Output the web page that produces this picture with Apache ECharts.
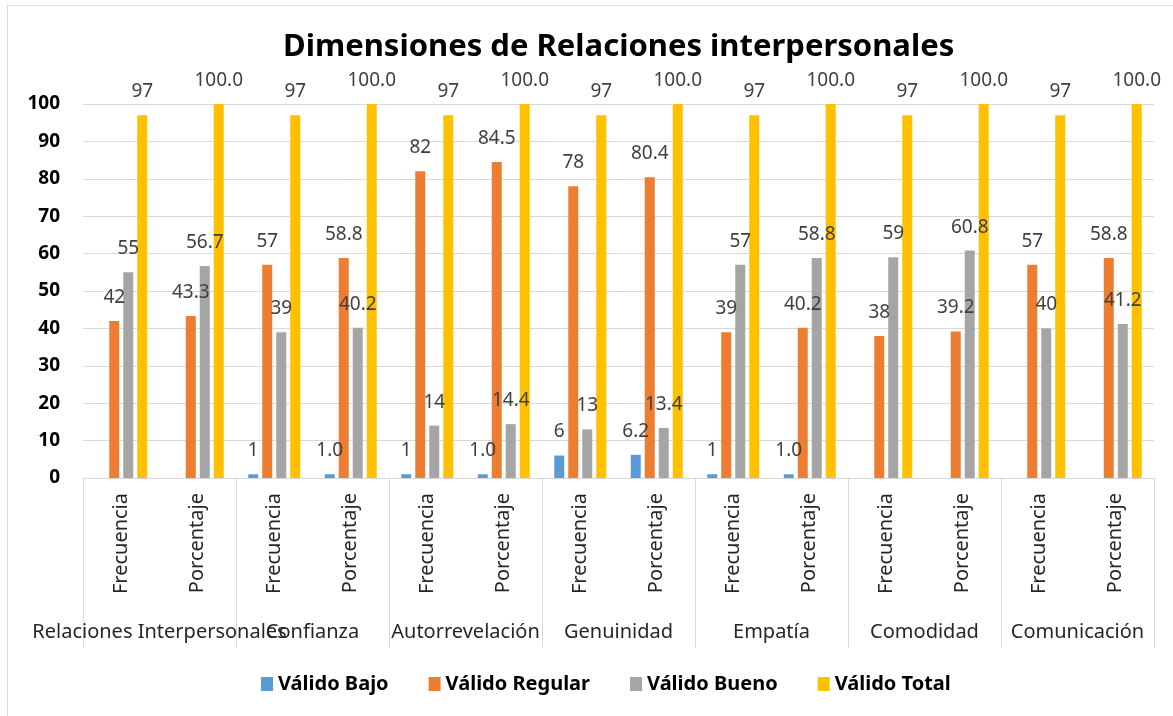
<!DOCTYPE html>
<html>
<head>
<meta charset="utf-8">
<script src="https://cdn.jsdelivr.net/npm/echarts@6/dist/echarts.min.js"></script>
<style>
  html, body { margin: 0; padding: 0; background: #fff; overflow: hidden; }
  #chart { position: absolute; left: 0; top: 0; width: 1173px; height: 716px; }
  .frame { position: absolute; left: 7px; top: 5px; width: 1300px; height: 900px; border: 1px solid #d9d9d9; pointer-events: none; }
</style>
</head>
<body>
<div id="chart"></div>
<div class="frame"></div>
<script>
const groups = ['Relaciones Interpersonales', 'Confianza', 'Autorrevelación', 'Genuinidad', 'Empatía', 'Comodidad', 'Comunicación']
const measures = ['Frecuencia', 'Porcentaje']
const categories = groups.flatMap(() => measures)

const validoBajo = [null, null, 1, 1.0, 1, 1.0, 6, 6.2, 1, 1.0, null, null, null, null]
const validoRegular = [42, 43.3, 57, 58.8, 82, 84.5, 78, 80.4, 39, 40.2, 38, 39.2, 57, 58.8]
const validoBueno = [55, 56.7, 39, 40.2, 14, 14.4, 13, 13.4, 57, 58.8, 59, 60.8, 40, 41.2]
const validoTotal = [97, 100.0, 97, 100.0, 97, 100.0, 97, 100.0, 97, 100.0, 97, 100.0, 97, 100.0]

const FONT = '"Noto Sans", sans-serif'

// Porcentaje columns show one decimal, Frecuencia columns integers
const fmt = p => (p.dataIndex % 2 === 1 ? Number(p.value).toFixed(1) : String(p.value))

const mkSeries = (name, data, color) => ({
  name,
  type: 'bar',
  data,
  barWidth: 10,
  barGap: '40%',
  itemStyle: { color },
  label: {
    show: true,
    position: 'top',
    distance: 14,
    formatter: fmt,
    color: '#404040',
    fontFamily: FONT,
    fontSize: 19,
  },
})

const chart = echarts.init(document.getElementById('chart'))

chart.setOption({
  animation: false,
  title: {
    text: 'Dimensiones de Relaciones interpersonales',
    left: 278,
    top: 27,
    textStyle: { fontFamily: FONT, fontSize: 31, fontWeight: 'bold', color: '#000' },
  },
  legend: {
    bottom: 17,
    left: 256,
    icon: 'rect',
    itemWidth: 12,
    itemHeight: 14,
    itemGap: 40,
    textStyle: { fontFamily: FONT, fontSize: 20, fontWeight: 'bold', color: '#000' },
    data: ['Válido Bajo', 'Válido Regular', 'Válido Bueno', 'Válido Total'],
  },
  grid: { left: 83, right: 19, top: 104, bottom: 238 },
  xAxis: [
    {
      type: 'category',
      data: categories,
      axisLine: { lineStyle: { color: '#d9d9d9' } },
      axisTick: { show: false },
      axisLabel: {
        interval: 0,
        rotate: 90,
        margin: 15,
        fontFamily: FONT,
        fontSize: 20,
        color: '#262626',
      },
    },
    {
      type: 'category',
      position: 'bottom',
      data: groups,
      axisLine: { show: false },
      axisTick: { show: true, interval: 0, length: 170, lineStyle: { color: '#d9d9d9' } },
      axisLabel: {
        interval: 0,
        margin: 144,
        fontFamily: FONT,
        fontSize: 20,
        color: '#262626',
      },
    },
  ],
  yAxis: {
    type: 'value',
    min: 0,
    max: 100,
    interval: 10,
    axisLine: { show: false },
    axisTick: { show: false },
    splitLine: { lineStyle: { color: '#d9d9d9' } },
    axisLabel: { margin: 23, fontFamily: FONT, fontSize: 19, fontWeight: 'bold', color: '#000' },
  },
  series: [
    mkSeries('Válido Bajo', validoBajo, '#5b9bd5'),
    mkSeries('Válido Regular', validoRegular, '#ed7d31'),
    mkSeries('Válido Bueno', validoBueno, '#a5a5a5'),
    mkSeries('Válido Total', validoTotal, '#ffc000'),
  ],
})
</script>
</body>
</html>
